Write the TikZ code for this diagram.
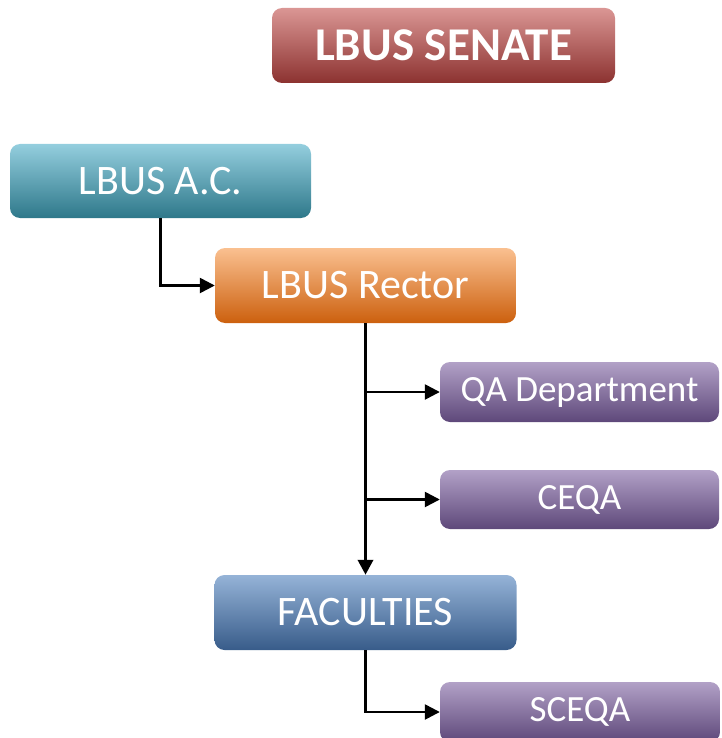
\documentclass[tikz,border=0pt]{standalone}
\usepackage{fontspec}
\setmainfont{Carlito}
\usetikzlibrary{arrows.meta,calc}
\tikzset{
  box/.style={rectangle, rounded corners=10pt, text=white, inner sep=0pt, align=center},
  redbox/.style={box, top color={rgb,255:red,218;green,150;blue,148}, middle color={rgb,255:red,192;green,80;blue,77}, bottom color={rgb,255:red,140;green,50;blue,48}},
  tealbox/.style={box, top color={rgb,255:red,148;green,206;blue,222}, middle color={rgb,255:red,75;green,172;blue,198}, bottom color={rgb,255:red,46;green,120;blue,138}},
  orangebox/.style={box, top color={rgb,255:red,250;green,192;blue,144}, middle color={rgb,255:red,245;green,146;blue,70}, bottom color={rgb,255:red,204;green,96;blue,14}},
  purplebox/.style={box, top color={rgb,255:red,178;green,161;blue,199}, middle color={rgb,255:red,128;green,100;blue,162}, bottom color={rgb,255:red,94;green,72;blue,122}},
  bluebox/.style={box, top color={rgb,255:red,149;green,179;blue,215}, middle color={rgb,255:red,79;green,129;blue,189}, bottom color={rgb,255:red,56;green,92;blue,138}},
  mainfont/.style={font=\fontsize{42}{46}\selectfont},
  subfont/.style={font=\fontsize{37}{40}\selectfont},
  arr/.style={line width=2.5pt, -{Triangle[length=15pt,width=15pt]}},
}
\begin{document}
\begin{tikzpicture}[x=1pt,y=1pt]
\useasboundingbox (0,0) rectangle (721,-738);
\clip (0,0) rectangle (721,-738);
\node[redbox, minimum width=343pt, minimum height=75pt, font=\fontsize{47}{50}\selectfont\bfseries] (senate) at (443.5,-45.5) {LBUS SENATE};
\node[tealbox, mainfont, minimum width=301pt, minimum height=74pt] (ac) at (160.5,-181) {LBUS A.C.};
\node[orangebox, mainfont, minimum width=301pt, minimum height=75pt] (rector) at (365.5,-285.5) {LBUS Rector};
\node[purplebox, subfont, minimum width=279pt, minimum height=60pt] (qa) at (579.5,-392) {QA Department};
\node[purplebox, subfont, minimum width=279pt, minimum height=59pt] (ceqa) at (579.5,-499.5) {CEQA};
\node[bluebox, mainfont, minimum width=302pt, minimum height=75pt] (fac) at (365.5,-612.5) {FACULTIES};
\node[purplebox, subfont, minimum width=280pt, minimum height=60pt] (sceqa) at (580,-712) {SCEQA};
\draw[arr] (ac.south) |- (rector.west);
\draw[arr, line width=3.5pt] (rector.south) -- (fac.north);
\draw[arr] (rector.south |- qa.west) -- (qa.west);
\draw[arr] (rector.south |- ceqa.west) -- (ceqa.west);
\draw[arr] (fac.south) |- (sceqa.west);
\end{tikzpicture}
\end{document}
